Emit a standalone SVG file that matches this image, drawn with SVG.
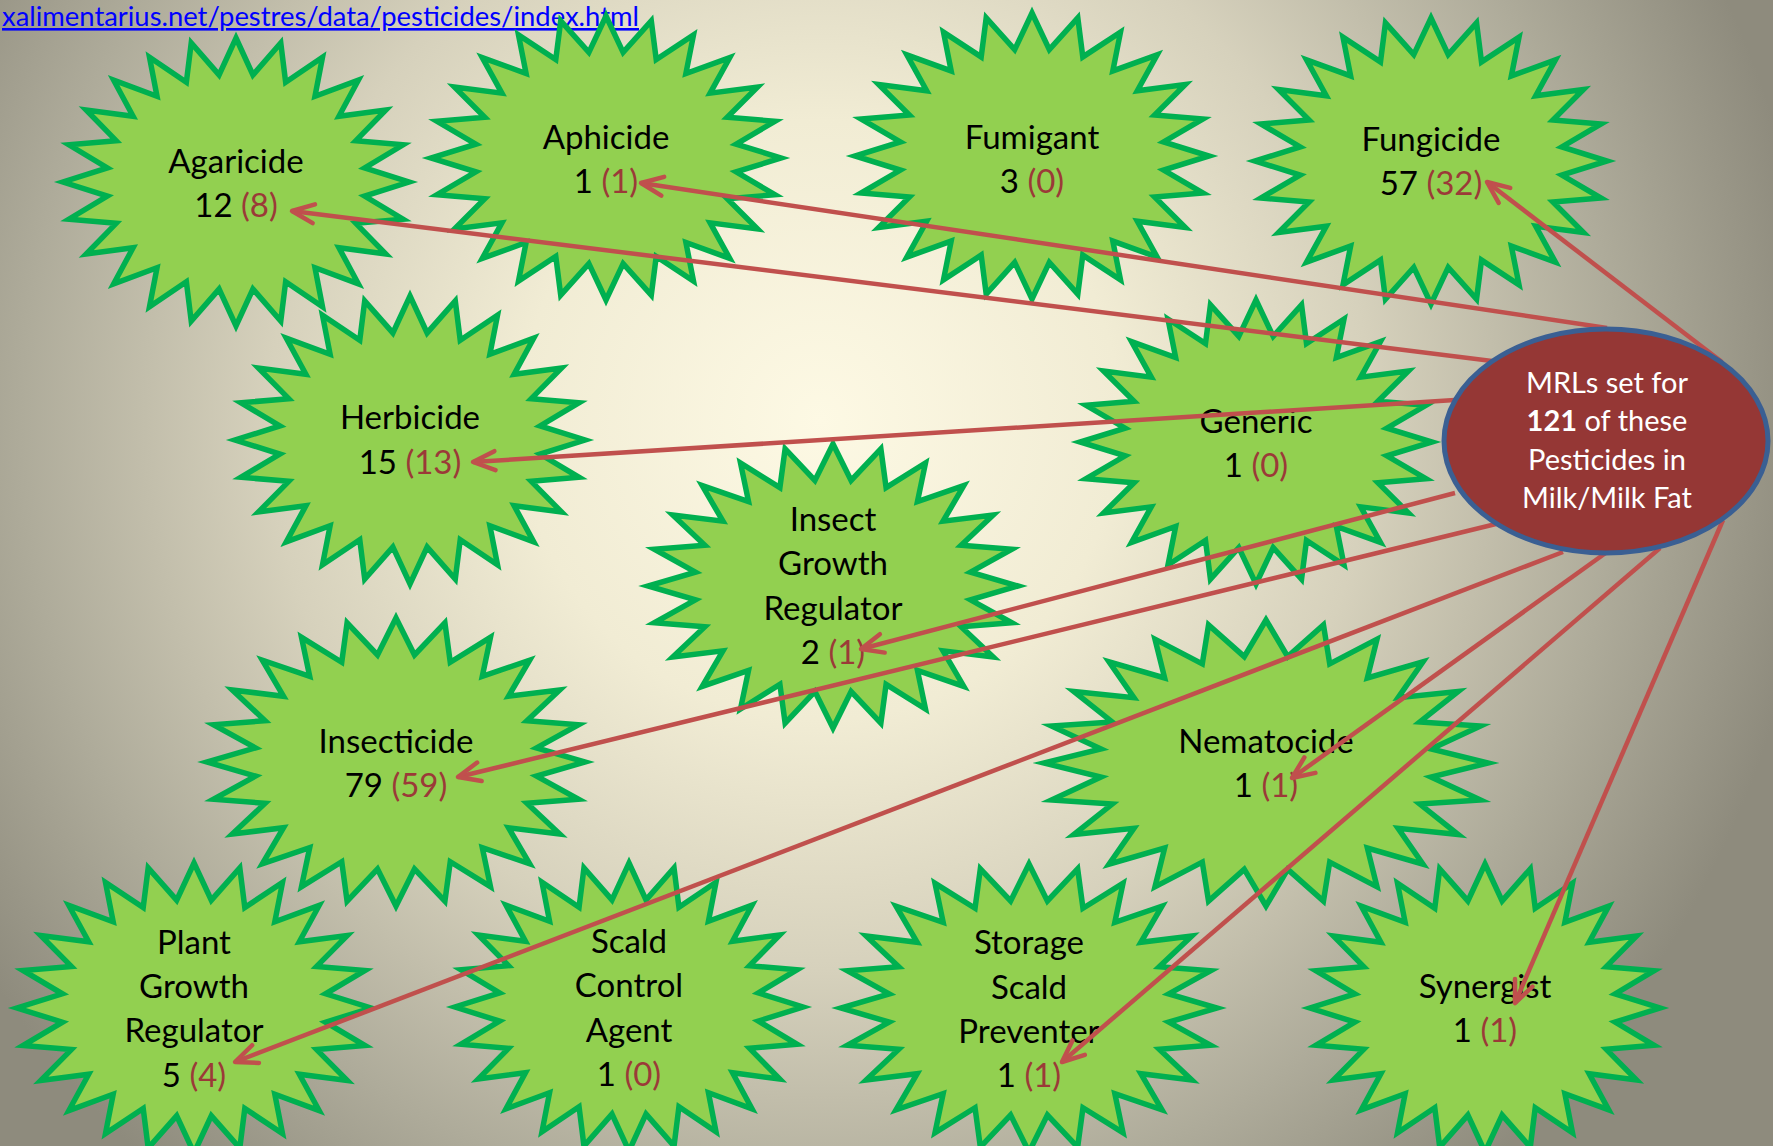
<svg xmlns="http://www.w3.org/2000/svg" xmlns:xlink="http://www.w3.org/1999/xlink" width="1773" height="1146" viewBox="0 0 1773 1146">
<style>
.lbl{font-family:Lato,"Open Sans","DejaVu Sans",sans-serif;font-size:33px;fill:#000;text-anchor:middle}
.red{fill:#9b3a38}
.conn{stroke:#c0504d;stroke-width:4.5;fill:none;marker-end:url(#arrow)}
.mrl{font-family:Lato,"Open Sans","DejaVu Sans",sans-serif;font-size:29px;fill:#fff;text-anchor:middle}
.url{font-family:Lato,"Open Sans","DejaVu Sans",sans-serif;font-size:26px;fill:#0000ff;text-decoration:underline}
</style>
<defs>
<radialGradient id="bg" gradientUnits="userSpaceOnUse" cx="820" cy="420" r="1000">
<stop offset="0" stop-color="#fdf9e4"/>
<stop offset="0.3" stop-color="#f1ecd4"/>
<stop offset="0.55" stop-color="#d6d1bc"/>
<stop offset="0.8" stop-color="#aeab9a"/>
<stop offset="1" stop-color="#8e8b7d"/>
</radialGradient>
<path id="star" fill="#92d050" stroke="#00b050" stroke-width="5.5" stroke-miterlimit="10" vector-effect="non-scaling-stroke" d="M0,-100 L9.79,-74.36 L25.88,-96.59 L28.7,-69.29 L50,-86.6 L45.66,-59.5 L70.71,-70.71 L59.5,-45.66 L86.6,-50 L69.29,-28.7 L96.59,-25.88 L74.36,-9.79 L100,0 L74.36,9.79 L96.59,25.88 L69.29,28.7 L86.6,50 L59.5,45.66 L70.71,70.71 L45.66,59.5 L50,86.6 L28.7,69.29 L25.88,96.59 L9.79,74.36 L0,100 L-9.79,74.36 L-25.88,96.59 L-28.7,69.29 L-50,86.6 L-45.66,59.5 L-70.71,70.71 L-59.5,45.66 L-86.6,50 L-69.29,28.7 L-96.59,25.88 L-74.36,9.79 L-100,0 L-74.36,-9.79 L-96.59,-25.88 L-69.29,-28.7 L-86.6,-50 L-59.5,-45.66 L-70.71,-70.71 L-45.66,-59.5 L-50,-86.6 L-28.7,-69.29 L-25.88,-96.59 L-9.79,-74.36 Z"/>
<marker id="arrow" viewBox="0 0 26 24" markerWidth="26" markerHeight="24" refX="24" refY="12" orient="auto" markerUnits="userSpaceOnUse" overflow="visible">
<path d="M2,2.5 L24,12 L2,21.5" fill="none" stroke="#c0504d" stroke-width="4.5" stroke-linecap="round" stroke-linejoin="round"/>
</marker>
</defs>
<rect x="0" y="0" width="1773" height="1146" fill="url(#bg)"/>
<text class="url" x="2" y="26" textLength="637" lengthAdjust="spacingAndGlyphs">xalimentarius.net/pestres/data/pesticides/index.html</text>

<g id="node-agaricide"><use xlink:href="#star" transform="translate(236 182) scale(1.73 1.44)"/>
<text class="lbl" x="236" y="173">Agaricide</text><text class="lbl" x="236" y="217">12 <tspan class="red">(8)</tspan></text></g>
<g id="node-aphicide"><use xlink:href="#star" transform="translate(606 158) scale(1.75 1.42)"/>
<text class="lbl" x="606" y="149">Aphicide</text><text class="lbl" x="606" y="193">1 <tspan class="red">(1)</tspan></text></g>
<g id="node-fumigant"><use xlink:href="#star" transform="translate(1032 156) scale(1.77 1.43)"/>
<text class="lbl" x="1032" y="149">Fumigant</text><text class="lbl" x="1032" y="193">3 <tspan class="red">(0)</tspan></text></g>
<g id="node-fungicide"><use xlink:href="#star" transform="translate(1431 161) scale(1.76 1.43)"/>
<text class="lbl" x="1431" y="151">Fungicide</text><text class="lbl" x="1431" y="195">57 <tspan class="red">(32)</tspan></text></g>
<g id="node-herbicide"><use xlink:href="#star" transform="translate(410 440) scale(1.75 1.44)"/>
<text class="lbl" x="410" y="429">Herbicide</text><text class="lbl" x="410" y="474">15 <tspan class="red">(13)</tspan></text></g>
<g id="node-generic"><use xlink:href="#star" transform="translate(1256 442) scale(1.76 1.42)"/>
<text class="lbl" x="1256" y="433">Generic</text><text class="lbl" x="1256" y="477">1 <tspan class="red">(0)</tspan></text></g>
<g id="node-igr"><use xlink:href="#star" transform="translate(833 586) scale(1.85 1.42)"/>
<text class="lbl" x="833" y="531">Insect</text><text class="lbl" x="833" y="575">Growth</text><text class="lbl" x="833" y="620">Regulator</text><text class="lbl" x="833" y="664">2 <tspan class="red">(1)</tspan></text></g>
<g id="node-insecticide"><use xlink:href="#star" transform="translate(396 762) scale(1.89 1.44)"/>
<text class="lbl" x="396" y="753">Insecticide</text><text class="lbl" x="396" y="797">79 <tspan class="red">(59)</tspan></text></g>
<g id="node-nematocide"><use xlink:href="#star" transform="translate(1266 763) scale(2.22 1.43)"/>
<text class="lbl" x="1266" y="753">Nematocide</text><text class="lbl" x="1266" y="797">1 <tspan class="red">(1)</tspan></text></g>
<g id="node-pgr"><use xlink:href="#star" transform="translate(194 1008) scale(1.77 1.45)"/>
<text class="lbl" x="194" y="954">Plant</text><text class="lbl" x="194" y="998">Growth</text><text class="lbl" x="194" y="1042">Regulator</text><text class="lbl" x="194" y="1087">5 <tspan class="red">(4)</tspan></text></g>
<g id="node-sca"><use xlink:href="#star" transform="translate(629 1007) scale(1.74 1.44)"/>
<text class="lbl" x="629" y="953">Scald</text><text class="lbl" x="629" y="997">Control</text><text class="lbl" x="629" y="1042">Agent</text><text class="lbl" x="629" y="1086">1 <tspan class="red">(0)</tspan></text></g>
<g id="node-ssp"><use xlink:href="#star" transform="translate(1029 1008) scale(1.88 1.44)"/>
<text class="lbl" x="1029" y="954">Storage</text><text class="lbl" x="1029" y="999">Scald</text><text class="lbl" x="1029" y="1043">Preventer</text><text class="lbl" x="1029" y="1087">1 <tspan class="red">(1)</tspan></text></g>
<g id="node-synergist"><use xlink:href="#star" transform="translate(1485 1008) scale(1.75 1.44)"/>
<text class="lbl" x="1485" y="998">Synergist</text><text class="lbl" x="1485" y="1042">1 <tspan class="red">(1)</tspan></text></g>

<g id="connectors">
<line class="conn" x1="1492" y1="361" x2="292" y2="211"/>
<line class="conn" x1="1607" y1="328" x2="641" y2="183"/>
<line class="conn" x1="1722" y1="362" x2="1487" y2="182"/>
<line class="conn" x1="1455" y1="400" x2="473" y2="462"/>
<line class="conn" x1="1455" y1="493" x2="861" y2="649"/>
<line class="conn" x1="1500" y1="523" x2="458" y2="777"/>
<line class="conn" x1="1563" y1="552" x2="235" y2="1062"/>
<line class="conn" x1="1607" y1="552" x2="1292" y2="778"/>
<line class="conn" x1="1660" y1="548" x2="1062" y2="1062"/>
<line class="conn" x1="1723" y1="520" x2="1515" y2="1003"/>
</g>

<g id="node-mrls">
<ellipse cx="1606" cy="441" rx="162" ry="112" fill="#953735" stroke="#3a5f93" stroke-width="5"/>
<text class="mrl" x="1607" y="393">MRLs set for</text>
<text class="mrl" x="1607" y="431"><tspan font-weight="bold">121</tspan> of these</text>
<text class="mrl" x="1607" y="470">Pesticides in</text>
<text class="mrl" x="1607" y="508">Milk/Milk Fat</text>
</g>
</svg>
